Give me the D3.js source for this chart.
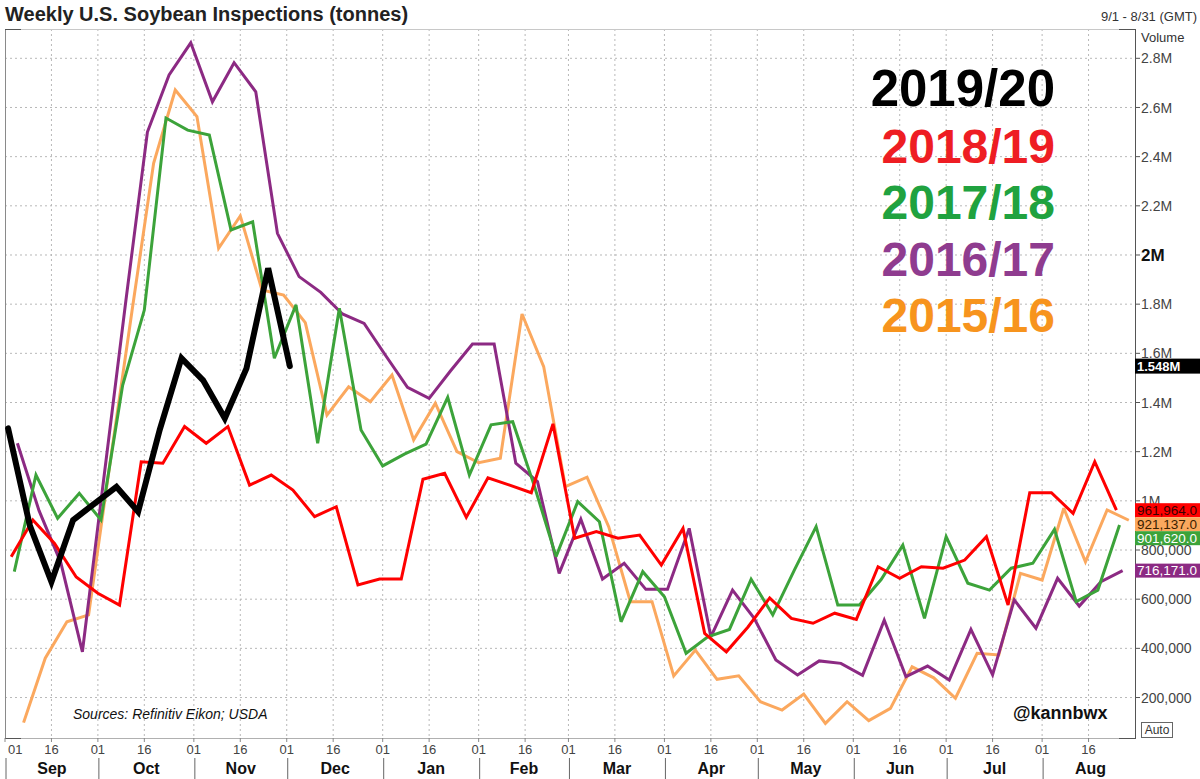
<!DOCTYPE html>
<html><head><meta charset="utf-8">
<script src="https://cdn.jsdelivr.net/npm/d3@7"></script>
<style>
body{margin:0;background:#fff;}
svg{display:block;font-family:"Liberation Sans",Arial,sans-serif;}
</style>
</head><body>
<svg id="chart" width="1200" height="779"></svg>
<script>
// ---------- DATA ----------
const seasons = ["2019/20", "2018/19", "2017/18", "2016/17", "2015/16"];
const seasonColors = ["#000000", "#ff0000", "#3ca33a", "#8c2a83", "#fba85e"];
const legendColors = ["#000000", "#ee1d23", "#20a23f", "#8f3c8f", "#f7941d"];
// first weekly observation of each season, shifted onto the 2019/20 calendar
const startDates = ["2019-09-02", "2019-09-03", "2019-09-04", "2019-09-05", "2019-09-07"];
// weekly inspections, tonnes
const s2019 = [1295000, 900000, 671000, 922000, 990000, 1057000, 956000, 1290000, 1580000, 1490000, 1336000, 1539000, 1946000, 1548000];
const s2018 = [773000, 922000, 827000, 690000, 624000, 576000, 1159000, 1153000, 1302000, 1234000, 1302000, 1064000, 1105000, 1044000, 936000, 976000, 658000, 682000, 682000, 1088000, 1112000, 933000, 1094000, 1064000, 1033000, 1313000, 848000, 875000, 848000, 861000, 739000, 888000, 461000, 386000, 487000, 605000, 522000, 502000, 543000, 518000, 732000, 685000, 732000, 726000, 759000, 854000, 576000, 1033000, 1033000, 949000, 1159000, 961964];
const s2017 = [712000, 1105000, 929000, 1031000, 922000, 1470000, 1776000, 2557000, 2508000, 2488000, 2102000, 2135000, 1580000, 1797000, 1234000, 1783000, 1288000, 1142000, 1190000, 1231000, 1421000, 1105000, 1309000, 1322000, 1060000, 773000, 997000, 915000, 508000, 712000, 610000, 380000, 447000, 477000, 681000, 536000, 719000, 895000, 576000, 576000, 680000, 820000, 522000, 854000, 665000, 637000, 726000, 746000, 884000, 590000, 637000, 901620];
const s2016 = [1234000, 960000, 750000, 386000, 1100000, 1810000, 2500000, 2732000, 2863000, 2623000, 2782000, 2664000, 2088000, 1912000, 1848000, 1760000, 1722000, 1590000, 1462000, 1417000, 1530000, 1638000, 1638000, 1153000, 1078000, 705000, 925000, 682000, 746000, 640000, 640000, 888000, 447000, 637000, 522000, 353000, 292000, 349000, 339000, 290000, 515000, 285000, 328000, 271000, 477000, 292000, 597000, 482000, 685000, 572000, 671000, 716171];
const s2015 = [98000, 360000, 508000, 536000, 1160000, 1770000, 2373000, 2671000, 2563000, 2027000, 2159000, 1858000, 1837000, 1725000, 1349000, 1464000, 1403000, 1512000, 1248000, 1397000, 1200000, 1155000, 1173000, 1760000, 1546000, 1058000, 1096000, 895000, 590000, 590000, 288000, 393000, 274000, 288000, 183000, 149000, 214000, 95000, 183000, 106000, 156000, 325000, 280000, 197000, 380000, 373000, 705000, 678000, 970000, 752000, 963000, 921137];
const seriesValues = [s2019, s2018, s2017, s2016, s2015];
const yTicks = [200000, 400000, 600000, 800000, 1000000, 1200000, 1400000, 1600000, 1800000, 2000000, 2200000, 2400000, 2600000, 2800000];
const monthNames = ["Sep", "Oct", "Nov", "Dec", "Jan", "Feb", "Mar", "Apr", "May", "Jun", "Jul", "Aug"];
const dayTickLabels = ["01", "16"];
const titleText = "Weekly U.S. Soybean Inspections (tonnes)";
const rangeText = "9/1 - 8/31 (GMT)";
const axisTitle = "Volume";
const sourceText = "Sources: Refinitiv Eikon; USDA";
const handleText = "@kannbwx";

// ---------- LAYOUT ----------
const svg = d3.select("#chart");
const L = 5, R = 1135, T = 29, B = 738;
const parse = d3.utcParse("%Y-%m-%d");
const x = d3.scaleUtc().domain([parse("2019-09-01"), parse("2020-08-31")]).range([L, R]);
const y = d3.scaleLinear().domain([0, 2800000]).range([746.7, 58.3]);

const series = seasons.map((s, i) => {
  const d0 = parse(startDates[i]);
  return {
    name: s, color: seasonColors[i],
    points: seriesValues[i].map((v, k) => ({date: d3.utcDay.offset(d0, 7 * k), value: v}))
  };
});

// title
svg.append("text").attr("x", 5).attr("y", 21).attr("font-size", 20).attr("font-weight", "bold")
  .attr("fill", "#222").text(titleText);
svg.append("text").attr("x", 1197).attr("y", 21).attr("text-anchor", "end").attr("font-size", 13)
  .attr("fill", "#333").text(rangeText);
svg.append("text").attr("x", 1141).attr("y", 42).attr("font-size", 13).attr("fill", "#333").text(axisTitle);

// grid
const gGrid = svg.append("g");
const dayTicks = [];
d3.utcMonths(parse("2019-09-01"), parse("2020-09-01")).forEach(m => {
  dayTicks.push({date: m, label: dayTickLabels[0]});
  dayTicks.push({date: d3.utcDay.offset(m, 15), label: dayTickLabels[1]});
});
gGrid.selectAll("line.v").data(dayTicks.slice(1)).join("line")
  .attr("x1", d => x(d.date)).attr("x2", d => x(d.date)).attr("y1", T).attr("y2", B)
  .attr("stroke", "#b8b8b8").attr("stroke-width", 1).attr("stroke-dasharray", "2,3");
gGrid.selectAll("line.h").data(yTicks).join("line")
  .attr("x1", L).attr("x2", R).attr("y1", d => y(d)).attr("y2", d => y(d))
  .attr("stroke", "#b8b8b8").attr("stroke-width", 1).attr("stroke-dasharray", "2,3");

// frame
svg.append("line").attr("x1", L).attr("x2", R).attr("y1", T + 0.5).attr("y2", T + 0.5).attr("stroke", "#c8c8c8");
svg.append("line").attr("x1", L).attr("x2", R).attr("y1", B + 0.5).attr("y2", B + 0.5).attr("stroke", "#b0b0b0");
svg.append("line").attr("x1", L + 0.5).attr("x2", L + 0.5).attr("y1", T).attr("y2", B).attr("stroke", "#8a8a8a");
svg.append("line").attr("x1", R + 0.5).attr("x2", R + 0.5).attr("y1", T).attr("y2", B + 1).attr("stroke", "#555");
[[L, L + 16, T + 0.5], [R - 16, R, T + 0.5], [L, L + 16, B + 0.5], [R - 16, R, B + 0.5]].forEach(s =>
  svg.append("line").attr("x1", s[0]).attr("x2", s[1]).attr("y1", s[2]).attr("y2", s[2]).attr("stroke", "#555"));

// right axis
const fmtY = v => v >= 1000000 ? (v / 1000000) + "M" : d3.format(",")(v);
const gY = svg.append("g");
gY.selectAll("line").data(yTicks).join("line")
  .attr("x1", R).attr("x2", R + 5).attr("y1", d => y(d)).attr("y2", d => y(d)).attr("stroke", "#555");
gY.selectAll("text").data(yTicks).join("text")
  .attr("x", R + 6).attr("y", d => y(d)).attr("dy", "0.36em")
  .attr("font-size", d => d === 2000000 ? 17 : 14)
  .attr("font-weight", d => d === 2000000 ? "bold" : "normal")
  .attr("fill", d => d === 2000000 ? "#111" : "#444")
  .text(fmtY);

// bottom axis
const gX = svg.append("g");
gX.selectAll("line").data(dayTicks).join("line")
  .attr("x1", d => x(d.date)).attr("x2", d => x(d.date)).attr("y1", B).attr("y2", B + 4).attr("stroke", "#888");
gX.selectAll("text").data(dayTicks).join("text")
  .attr("x", (d, i) => i === 0 ? x(d.date) + 3 : x(d.date))
  .attr("text-anchor", (d, i) => i === 0 ? "start" : "middle")
  .attr("y", 754).attr("font-size", 13).attr("fill", "#444").text(d => d.label);
const months = d3.utcMonths(parse("2019-09-01"), parse("2020-09-01"));
const gM = svg.append("g");
gM.selectAll("line").data(months).join("line")
  .attr("x1", d => x(d) + 1).attr("x2", d => x(d) + 1).attr("y1", 758).attr("y2", 779).attr("stroke", "#666");
gM.selectAll("text").data(months).join("text")
  .attr("x", (d, i) => (x(d) + x(d3.utcDay.offset(d3.utcMonth.offset(d, 1), -1))) / 2 + 2)
  .attr("y", 774).attr("text-anchor", "middle").attr("font-size", 16).attr("font-weight", "bold")
  .attr("fill", "#111").text((d, i) => monthNames[i]);

// lines
svg.append("clipPath").attr("id", "clip").append("rect").attr("x", L).attr("y", T).attr("width", R - L).attr("height", B - T);
const line = d3.line().x(d => x(d.date)).y(d => y(d.value));
const gL = svg.append("g").attr("clip-path", "url(#clip)");
const drawOrder = [4, 3, 2, 1, 0];
drawOrder.forEach(i => {
  gL.append("path").datum(series[i].points)
    .attr("d", line).attr("fill", "none").attr("stroke", series[i].color)
    .attr("stroke-width", i === 0 ? 6 : 3).attr("stroke-linejoin", "miter").attr("stroke-miterlimit", 3)
    .attr("stroke-linecap", i === 0 ? "round" : "butt");
});

// legend
const gLeg = svg.append("g");
gLeg.selectAll("text").data(seasons).join("text")
  .attr("x", 1055).attr("y", (d, i) => 106 + i * 56.5).attr("text-anchor", "end")
  .attr("font-size", (d, i) => i === 0 ? 51 : 48).attr("font-weight", "bold")
  .attr("fill", (d, i) => legendColors[i]).text(d => d);

// last value tags
const fmtTag = d3.format(",.1f");
const tagH = 14;
const tags = [1, 4, 2, 3].map(i => {
  const last = series[i].points[series[i].points.length - 1];
  return {i, yc: y(last.value), text: fmtTag(last.value)};
}).sort((a, b) => a.yc - b.yc);
let prevBottom = -Infinity;
tags.forEach(t => {
  let top = t.yc - tagH / 2;
  if (top < prevBottom) top = prevBottom;
  t.top = top; prevBottom = top + tagH;
});
const tagText = {1: "#3a0000", 4: "#3a2000", 2: "#ffffff", 3: "#ffffff"};
const gT = svg.append("g");
tags.forEach(t => {
  gT.append("rect").attr("x", R).attr("y", t.top).attr("width", 1200 - R).attr("height", tagH).attr("fill", seasonColors[t.i]);
  gT.append("text").attr("x", R + 2).attr("y", t.top + tagH - 2.5).attr("font-size", 13.5)
    .attr("fill", tagText[t.i]).text(t.text);
});
const lastB = series[0].points[series[0].points.length - 1];
gT.append("rect").attr("x", R).attr("y", y(lastB.value) - 7.5).attr("width", 1200 - R).attr("height", 15).attr("fill", "#000");
gT.append("text").attr("x", R + 2).attr("y", y(lastB.value) + 5).attr("font-size", 13).attr("font-weight", "bold")
  .attr("fill", "#fff").text(d3.format(".4~s")(lastB.value));

// annotations
svg.append("text").attr("x", 73).attr("y", 719).attr("font-size", 14).attr("font-style", "italic")
  .attr("fill", "#111").text(sourceText);
svg.append("text").attr("x", 1013).attr("y", 719).attr("font-size", 18).attr("font-weight", "bold")
  .attr("fill", "#111").text(handleText);
svg.append("rect").attr("x", 1141.5).attr("y", 722.5).attr("width", 31).attr("height", 15).attr("fill", "#fff").attr("stroke", "#666");
svg.append("text").attr("x", 1157).attr("y", 734).attr("text-anchor", "middle").attr("font-size", 12).attr("fill", "#333").text("Auto");
</script>
</body></html>
